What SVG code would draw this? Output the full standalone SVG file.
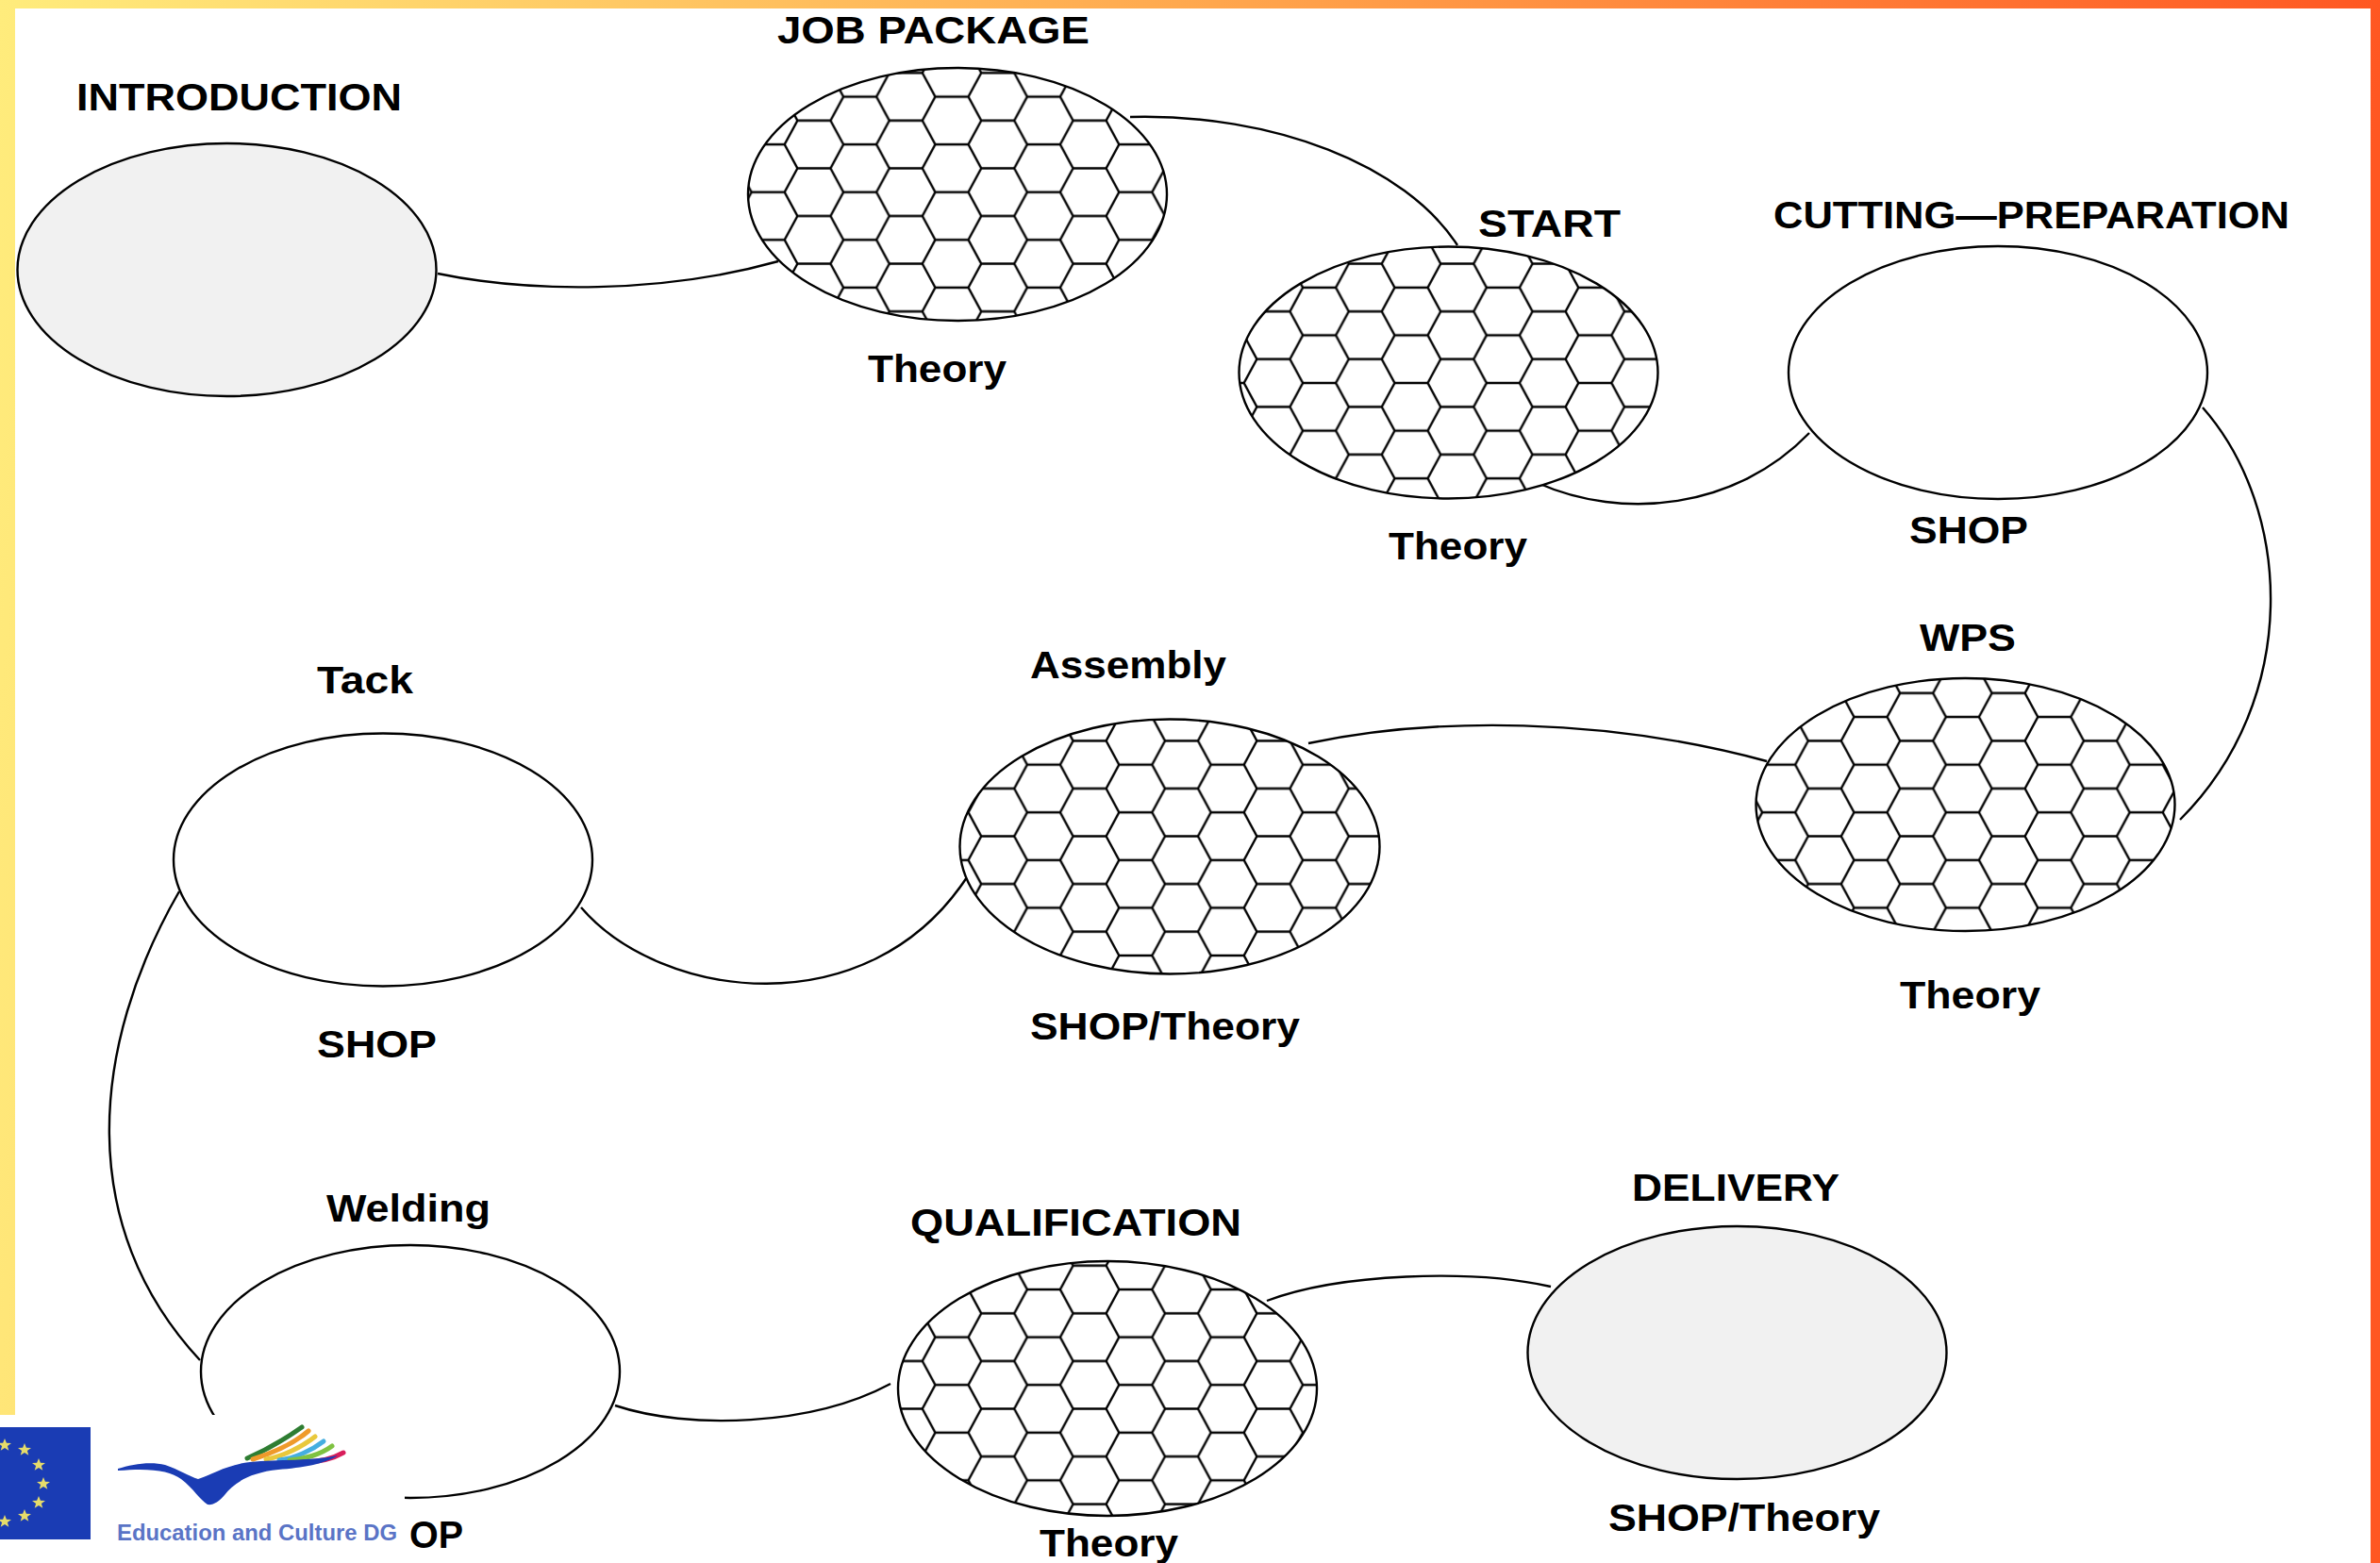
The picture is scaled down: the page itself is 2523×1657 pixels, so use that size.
<svg xmlns="http://www.w3.org/2000/svg" xmlns:xlink="http://www.w3.org/1999/xlink" width="2523" height="1657" viewBox="0 0 2523 1657">
<style>
.e{stroke:#000;stroke-width:2.4}
.plain{fill:#fff}
.grey{fill:#f1f1f1}
.hex{fill:url(#hexes)}
.c{fill:none;stroke:#000;stroke-width:2.4}
text{font-family:"Liberation Sans",Arial,sans-serif;font-weight:bold;font-size:40px;fill:#000}
.star{fill:#e6dc6a}
.strand{fill:none;stroke-width:5;stroke-linecap:round}
</style>
<defs>
<linearGradient id="bg" x1="0" y1="0" x2="1" y2="0.05">
<stop offset="0" stop-color="#ffec7c"/>
<stop offset="0.5" stop-color="#ffa84e"/>
<stop offset="1" stop-color="#ff5722"/>
</linearGradient>
<pattern id="hexes" patternUnits="userSpaceOnUse" x="0" y="0" width="97.4" height="50.58" patternTransform="translate(1009 203.7)">
<rect x="0" y="0" width="97.4" height="50.58" fill="#fff"/>
<path d="M-18 0H17.5L31.2 25.29H66.2L79.9 0H116M-18 50.58H17.5L31.2 25.29M66.2 25.29L79.9 50.58H116" fill="none" stroke="#000" stroke-width="2.4"/>
</pattern>
<path id="s" d="M0-7L1.9-2.3 7-2.1 2.9 1 4.3 5.8 0 3.1-4.3 5.8-2.9 1-7-2.1-1.9-2.3Z"/>
</defs>
<rect id="background" width="2523" height="1657" fill="url(#bg)"/>
<rect id="page" x="16" y="9" width="2497" height="1648" fill="#fff"/>
<g id="connectors">
<path class="c" d="M464 290C560 310 700 312 825 277"/>
<path class="c" d="M1198 124C1350 120 1490 175 1545 260"/>
<path class="c" d="M1630 512C1720 552 1840 540 1918 459"/>
<path class="c" d="M2335 432C2430 540 2440 740 2311 869"/>
<path class="c" d="M1387 788C1520 760 1700 760 1873 807"/>
<path class="c" d="M616 962C700 1060 920 1090 1025 930"/>
<path class="c" d="M190 945C95 1110 80 1300 212 1442"/>
<path class="c" d="M652 1490C730 1516 860 1512 944 1467"/>
<path class="c" d="M1343 1379C1420 1350 1560 1345 1644 1364"/>
</g>
<g id="introduction">
<ellipse class="e grey" cx="240.500" cy="286" rx="222" ry="134"/>
<text x="81" y="117" textLength="345" lengthAdjust="spacingAndGlyphs">INTRODUCTION</text>
</g>
<g id="job-package">
<ellipse class="e hex" cx="1015" cy="206" rx="222" ry="134"/>
<text x="824" y="46" textLength="331" lengthAdjust="spacingAndGlyphs">JOB PACKAGE</text>
<text x="920" y="405" textLength="147" lengthAdjust="spacingAndGlyphs">Theory</text>
</g>
<g id="start">
<ellipse class="e hex" cx="1535.500" cy="395" rx="222" ry="133.500"/>
<text x="1567" y="251" textLength="151" lengthAdjust="spacingAndGlyphs">START</text>
<text x="1472" y="593" textLength="147" lengthAdjust="spacingAndGlyphs">Theory</text>
</g>
<g id="cutting-preparation">
<ellipse class="e plain" cx="2118" cy="395" rx="222" ry="134"/>
<text x="1880" y="242" textLength="547" lengthAdjust="spacingAndGlyphs">CUTTING—PREPARATION</text>
<text x="2024" y="576" textLength="126" lengthAdjust="spacingAndGlyphs">SHOP</text>
</g>
<g id="wps">
<ellipse class="e hex" cx="2083.500" cy="853" rx="222" ry="134"/>
<text x="2035" y="690" textLength="102" lengthAdjust="spacingAndGlyphs">WPS</text>
<text x="2014" y="1069" textLength="149" lengthAdjust="spacingAndGlyphs">Theory</text>
</g>
<g id="assembly">
<ellipse class="e hex" cx="1240" cy="897.500" rx="222.500" ry="135"/>
<text x="1092" y="719" textLength="208" lengthAdjust="spacingAndGlyphs">Assembly</text>
<text x="1092" y="1102" textLength="286" lengthAdjust="spacingAndGlyphs">SHOP/Theory</text>
</g>
<g id="tack">
<ellipse class="e plain" cx="406" cy="911.500" rx="222" ry="134"/>
<text x="336" y="735" textLength="102" lengthAdjust="spacingAndGlyphs">Tack</text>
<text x="336" y="1121" textLength="127" lengthAdjust="spacingAndGlyphs">SHOP</text>
</g>
<g id="welding">
<ellipse class="e plain" cx="435" cy="1454" rx="222" ry="134"/>
<text x="346" y="1295" textLength="174" lengthAdjust="spacingAndGlyphs">Welding</text>
<text x="434" y="1641" textLength="57" lengthAdjust="spacingAndGlyphs">OP</text>
</g>
<g id="qualification">
<ellipse class="e hex" cx="1174" cy="1472" rx="222" ry="135"/>
<text x="965" y="1310" textLength="351" lengthAdjust="spacingAndGlyphs">QUALIFICATION</text>
<text x="1102" y="1650" textLength="147" lengthAdjust="spacingAndGlyphs">Theory</text>
</g>
<g id="delivery">
<ellipse class="e grey" cx="1841.500" cy="1434" rx="222" ry="134"/>
<text x="1730" y="1273" textLength="220" lengthAdjust="spacingAndGlyphs">DELIVERY</text>
<text x="1705" y="1623" textLength="288" lengthAdjust="spacingAndGlyphs">SHOP/Theory</text>
</g>
<g id="logo">
<rect x="0" y="1500" width="429" height="157" fill="#fff"/>
<rect x="0" y="1513" width="96" height="119" fill="#1a3cb4"/>
<g class="star">
<use xlink:href="#s" href="#s" x="5" y="1532"/>
<use xlink:href="#s" href="#s" x="26" y="1537"/>
<use xlink:href="#s" href="#s" x="41" y="1553"/>
<use xlink:href="#s" href="#s" x="46" y="1573"/>
<use xlink:href="#s" href="#s" x="41" y="1593"/>
<use xlink:href="#s" href="#s" x="26" y="1607"/>
<use xlink:href="#s" href="#s" x="5" y="1613"/>
</g>
<path class="strand" stroke="#2e7d32" d="M262 1546C285 1536 303 1525 320 1513"/>
<path class="strand" stroke="#ef9a2a" d="M268 1547C290 1540 312 1530 327 1517"/>
<path class="strand" stroke="#e9c83c" d="M282 1547C300 1544 320 1534 334 1523"/>
<path class="strand" stroke="#45aee0" d="M296 1548C312 1546 330 1538 343 1528"/>
<path class="strand" stroke="#7fc241" d="M307 1548C322 1547 340 1542 352 1533"/>
<path class="strand" stroke="#d81e5b" d="M321 1550C335 1550 352 1547 364 1540"/>
<path fill="#1a3cb4" d="M125 1557C140 1552 160 1549 175 1553C190 1558 200 1565 210 1568C225 1563 240 1553 265 1550C295 1547 330 1549 358 1543C345 1552 320 1556 295 1558C265 1561 248 1572 238 1585C232 1592 226 1596 220 1595C212 1590 205 1578 192 1568C180 1559 160 1556 125 1559Z"/>
<text x="124" y="1633" textLength="297" lengthAdjust="spacingAndGlyphs" style="font-size:24px;fill:#5a74c6">Education and Culture DG</text>
</g>
</svg>
